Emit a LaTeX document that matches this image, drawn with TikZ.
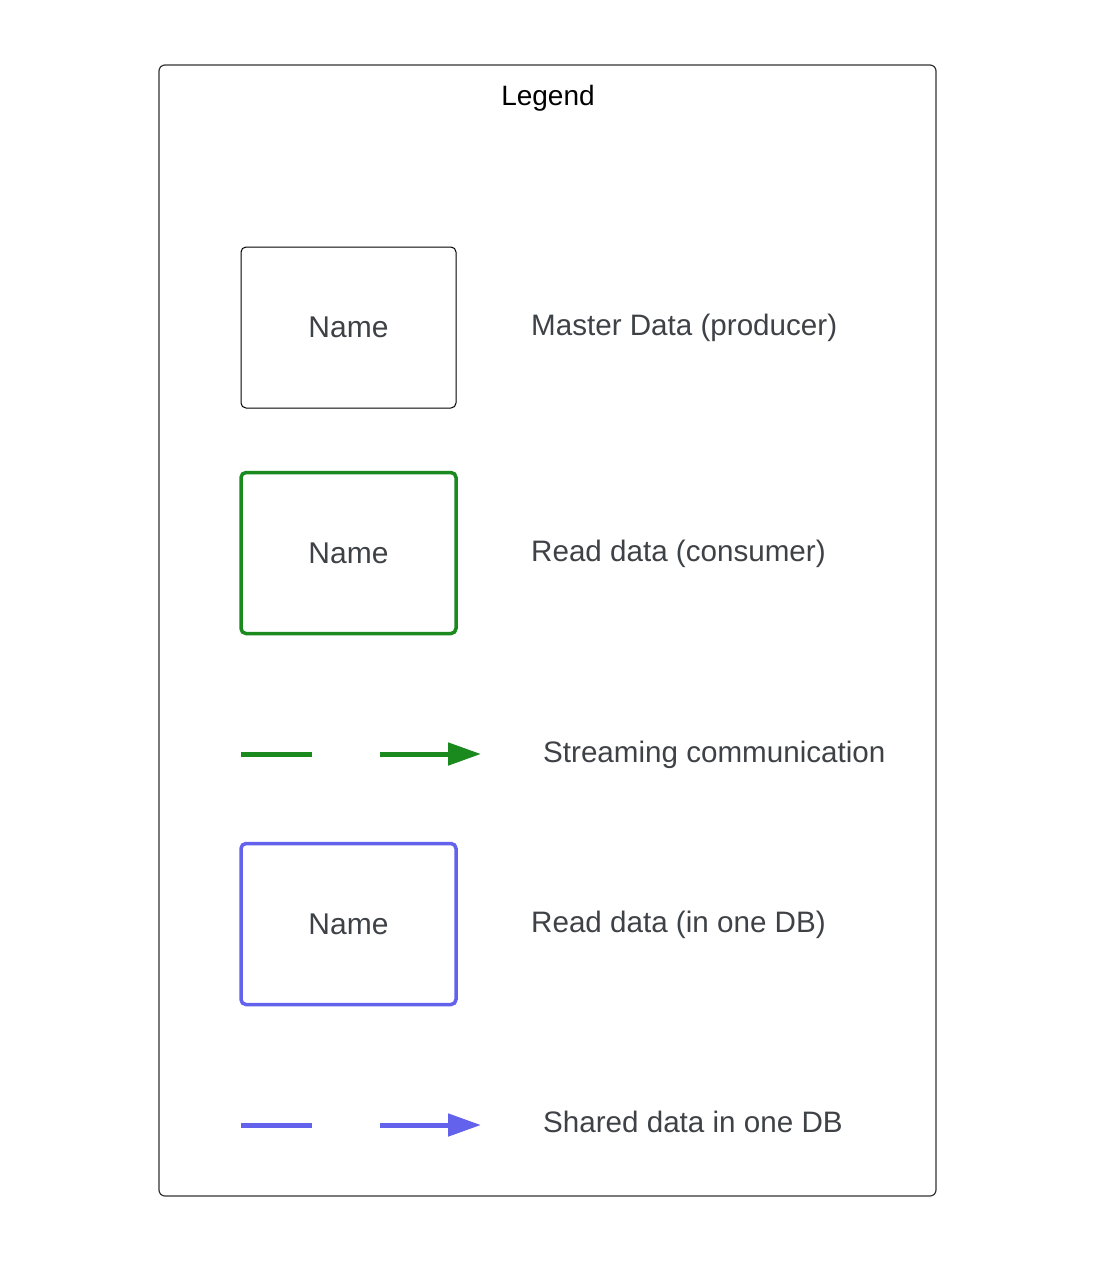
\documentclass[tikz,border=0pt]{standalone}
\usepackage{fontspec}
\setmainfont{Liberation Sans}
\usetikzlibrary{arrows.meta}
\definecolor{streamgreen}{RGB}{26,137,30}
\definecolor{dbblue}{RGB}{98,98,236}
\definecolor{labelgrey}{RGB}{62,66,70}
\tikzset{
  namebox/.style={draw, rounded corners=5pt, minimum width=215pt, minimum height=161pt,
    text=labelgrey, font=\fontsize{30}{35}\selectfont},
  legendtext/.style={anchor=west, inner sep=0pt, text=labelgrey, font=\fontsize{29.6}{35}\selectfont},
  flowline/.style={line width=5pt, dash pattern=on 71pt off 68pt,
    -{Triangle[length=33pt,width=22pt]}}
}
\begin{document}
\begin{tikzpicture}[x=1pt,y=-1pt]
  \useasboundingbox (0,0) rectangle (1102,1262);
  % ---------- Outer frame ----------
  \draw[line width=1.2pt, draw=black!80, rounded corners=6pt] (159,65) rectangle (936,1196);
  \node[font=\fontsize{28}{33}\selectfont] (title) at (548,98) {Legend};

  % ---------- Boxes ----------
  \node[namebox, line width=1pt] (producer) at (348.5,327.5) {Name};
  \node[legendtext] (producerlbl) at (531,328) {Master Data (producer)};

  \node[namebox, draw=streamgreen, line width=3.5pt] (consumer) at (348.5,553) {Name};
  \node[legendtext] (consumerlbl) at (531,554) {Read data (consumer)};

  \node[namebox, draw=dbblue, line width=3.5pt] (onedb) at (348.5,924) {Name};
  \node[legendtext] (onedblbl) at (531,925) {Read data (in one DB)};

  % ---------- Arrows ----------
  \coordinate (streamstart) at (241,754);
  \coordinate (streamend) at (481,754);
  \draw[flowline, streamgreen] (streamstart) -- (streamend);
  \node[legendtext] (streamlbl) at (543,755) {Streaming communication};

  \coordinate (sharedstart) at (241,1125);
  \coordinate (sharedend) at (481,1125);
  \draw[flowline, dbblue] (sharedstart) -- (sharedend);
  \node[legendtext] (sharedlbl) at (543,1122) {Shared data in one DB};
\end{tikzpicture}
\end{document}
